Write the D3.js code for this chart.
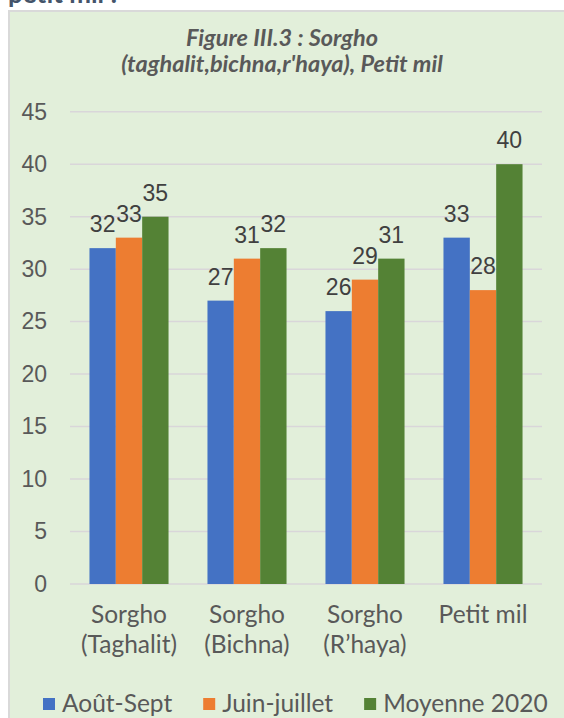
<!DOCTYPE html>
<html>
<meta charset="utf-8">
<script src="https://d3js.org/d3.v7.min.js"></script>

<head>
    <style>
        body {
            margin: 0;
            background-color: #ffffff;
            overflow: hidden;
        }

        svg {
            display: block;
        }
    </style>
</head>

<body>
</body>
<script>
    const width = 564,
        height = 718;

    const categories = [["Sorgho", "(Taghalit)"], ["Sorgho", "(Bichna)"], ["Sorgho", "(R\u2019haya)"], ["Petit mil"]];
    const series = ["Août-Sept", "Juin-juillet", "Moyenne 2020"];
    const aoutSept = [32, 27, 26, 33];
    const juinJuillet = [33, 31, 29, 28];
    const moyenne2020 = [35, 32, 31, 40];
    const yTicks = [0, 5, 10, 15, 20, 25, 30, 35, 40, 45];
    const colors = ["#4472c4", "#ed7d31", "#548235"];

    const values = [aoutSept, juinJuillet, moyenne2020];
    const svg = d3.select("body").append("svg").attr("width", width).attr("height", height);

    // text cut off above the chart box
    svg.append("text")
        .attr("x", 8)
        .attr("y", 3)
        .attr("font-family", "Lato")
        .attr("font-weight", "bold")
        .attr("font-size", 26)
        .attr("fill", "#44546a")
        .text("petit mil :");

    // chart box
    svg.append("rect")
        .attr("x", 9)
        .attr("y", 11)
        .attr("width", 600)
        .attr("height", 760)
        .attr("fill", "#e2efda")
        .attr("stroke", "#d9d9d9")
        .attr("stroke-width", 2);

    // title
    const title = svg.append("text")
        .attr("text-anchor", "middle")
        .attr("font-family", "Lato")
        .attr("font-weight", "bold")
        .attr("font-style", "italic")
        .attr("font-size", 23.5)
        .attr("fill", "#595959");
    title.append("tspan").attr("x", 282).attr("y", 46).text("Figure III.3 : Sorgho");
    title.append("tspan").attr("x", 282).attr("y", 72).text("(taghalit,bichna,r'haya), Petit mil");

    const x0 = d3.scaleBand()
        .domain(d3.range(categories.length))
        .range([70, 542])
        .paddingInner(0.33)
        .paddingOuter(0.165);
    const x1 = d3.scaleBand()
        .domain(d3.range(series.length))
        .range([0, x0.bandwidth()]);
    const y = d3.scaleLinear().domain([0, 45]).range([584, 111.7]);

    // gridlines
    svg.append("g")
        .selectAll("line")
        .data(yTicks)
        .join("line")
        .attr("x1", 70)
        .attr("x2", 542)
        .attr("y1", d => y(d))
        .attr("y2", d => y(d))
        .attr("stroke", "#d9d6d9")
        .attr("stroke-width", 1.5);

    // y axis labels
    const yAxis = svg.append("g")
        .attr("transform", "translate(70,0)")
        .call(d3.axisLeft(y).tickValues(yTicks).tickSize(0).tickPadding(23));
    yAxis.select(".domain").remove();
    yAxis.selectAll("text")
        .attr("font-family", "Liberation Sans")
        .attr("font-size", 23)
        .attr("fill", "#595959");

    // bars
    const groups = svg.append("g")
        .selectAll("g")
        .data(categories)
        .join("g")
        .attr("transform", (d, i) => `translate(${x0(i)},0)`);
    groups.selectAll("rect")
        .data((d, i) => values.map((s, k) => ({ k: k, v: s[i] })))
        .join("rect")
        .attr("x", d => x1(d.k))
        .attr("y", d => y(d.v))
        .attr("width", x1.bandwidth())
        .attr("height", d => y(0) - y(d.v))
        .attr("fill", d => colors[d.k]);

    // data labels
    groups.selectAll("text.val")
        .data((d, i) => values.map((s, k) => ({ k: k, v: s[i] })))
        .join("text")
        .attr("class", "val")
        .attr("x", d => x1(d.k) + x1.bandwidth() / 2)
        .attr("y", d => y(d.v) - 16)
        .attr("text-anchor", "middle")
        .attr("font-family", "Liberation Sans")
        .attr("font-size", 23)
        .attr("fill", "#404040")
        .text(d => d.v);

    // category labels
    const cat = svg.append("g")
        .selectAll("text")
        .data(categories)
        .join("text")
        .attr("text-anchor", "middle")
        .attr("font-family", "Lato")
        .attr("font-size", 24.5)
        .attr("fill", "#595959");
    cat.selectAll("tspan")
        .data((d, i) => d.map(t => ({ t: t, i: i })))
        .join("tspan")
        .attr("x", d => x0(d.i) + x0.bandwidth() / 2)
        .attr("y", (d, j) => 623 + j * 30)
        .text(d => d.t);

    // legend
    let lx = 43;
    series.forEach((s, k) => {
        svg.append("rect")
            .attr("x", lx)
            .attr("y", 698)
            .attr("width", 12)
            .attr("height", 12)
            .attr("fill", colors[k]);
        const t = svg.append("text")
            .attr("x", lx + 19)
            .attr("y", 711.5)
            .attr("font-family", "Lato")
            .attr("font-size", 24.5)
            .attr("fill", "#595959")
            .text(s);
        lx += 19 + t.node().getComputedTextLength() + 31;
    });
</script>

</html>
